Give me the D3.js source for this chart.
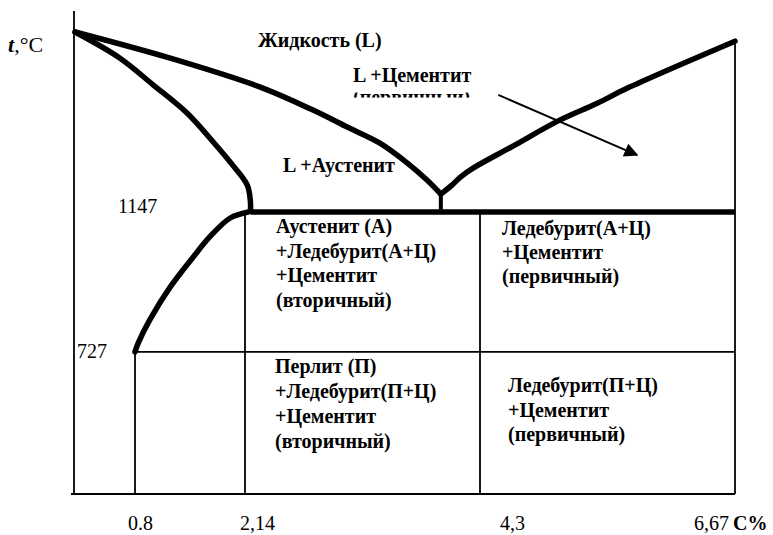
<!DOCTYPE html>
<html><head><meta charset="utf-8">
<script src="https://cdn.jsdelivr.net/npm/d3@7"></script>
<style>body{margin:0;background:#fff} svg{display:block} svg text{font-family:"Liberation Serif","Times New Roman","DejaVu Serif",serif !important;}</style>
</head><body><svg id="c" width="773" height="535"></svg>
<script>
// ---- data (C %, temperature °C) ----
const carbonTicks = [0.8, 2.14, 4.3, 6.67];
const carbonLabels = ["0.8", "2,14", "4,3", "6,67"];
const tempMarks = [1147, 727];
const tempLabels = ["1147", "727"];
const liquidusLeft = [[0,1539],[1.23,1482],[2.28,1419],[2.765,1369],[3.08,1332],[3.38,1297],[3.63,1254],[3.81,1217],[3.94,1186]];
const liquidusRight = [[3.94,1186],[4.04,1205],[4.12,1223],[4.24,1243],[4.61,1291],[5.04,1347],[5.39,1384],[5.69,1419],[6.67,1519]];
const solidus = [[0,1539],[0.6,1482],[1.02,1424],[1.43,1363],[1.75,1300],[1.99,1249],[2.16,1206],[2.19,1169],[2.19,1149]];
const solvus = [[2.17,1147],[1.96,1129],[1.71,1072],[1.51,1012],[1.23,922],[0.98,823],[0.84,754],[0.8,727]];
const eutecticC = [2.19, 6.67];
const eutectoidC = [0.8, 6.67];
const regionA = ["Аустенит (А)", "+Ледебурит(А+Ц)", "+Цементит", "(вторичный)"];
const regionB = ["Ледебурит(А+Ц)", "+Цементит", "(первичный)"];
const regionC = ["Перлит (П)", "+Ледебурит(П+Ц)", "+Цементит", "(вторичный)"];
const regionD = ["Ледебурит(П+Ц)", "+Цементит", "(первичный)"];

// ---- scales (schematic, piecewise) ----
const x = d3.scaleLinear().domain([0, 0.8, 2.14, 4.3, 6.67]).range([75, 135, 245, 480, 735]);
const y = d3.scaleLinear().domain([300, 1147, 1539]).range([494, 212, 32]);

const svg = d3.select("#c");

const defs = svg.append("defs");
defs.append("clipPath").attr("id","cut")
  .append("rect").attr("x",340).attr("y",92.5).attr("width",160).attr("height",5);
defs.append("marker").attr("id","ah").attr("viewBox","0 0 10 10").attr("refX",9).attr("refY",5)
  .attr("markerWidth",8.5).attr("markerHeight",7).attr("markerUnits","strokeWidth").attr("orient","auto")
  .append("path").attr("d","M0,0 L10,5 L0,10 Z").attr("fill","#000");

// axes
svg.append("line").attr("x1",x(0)-1).attr("x2",x(0)-1).attr("y1",11).attr("y2",y(300))
  .attr("stroke","#000").attr("stroke-width",1.8);

const xAxis = d3.axisBottom(x).tickValues(carbonTicks)
  .tickFormat((d,i)=>carbonLabels[i]).tickSize(0).tickPadding(0);
const gx = svg.append("g").attr("transform",`translate(0,${y(300)})`).call(xAxis);
gx.select(".domain").attr("stroke","#000").attr("stroke-width",1.8).attr("d",`M${x(0)-4},0H${x(6.67)}`);
const labelDx = [5, 12, 32, -24];
gx.selectAll(".tick text").attr("font-size",20).attr("fill","#000")
  .attr("dy",null).attr("y",36).attr("dx",(d,i)=>labelDx[i]);
svg.append("text").attr("x",x(6.67)-2).attr("y",530)
  .attr("font-size",20).attr("font-weight","bold").text("C%");

// thin lines
function ln(x1,y1,x2,y2,w){ svg.append("line").attr("x1",x1).attr("y1",y1).attr("x2",x2).attr("y2",y2)
  .attr("stroke","#000").attr("stroke-width",w||1.8); }
ln(x(eutectoidC[0]), y(727), x(eutectoidC[1]), y(727));
ln(x(0.8), y(727), x(0.8), y(300));
ln(x(2.14), y(1147), x(2.14), y(300));
ln(x(4.3), y(1147), x(4.3), y(300));
ln(x(6.67), y(1519), x(6.67), y(300));

// thick curves
const line = d3.line().x(d=>x(d[0])).y(d=>y(d[1])).curve(d3.curveCatmullRom.alpha(0.5));
[liquidusLeft, liquidusRight, solidus, solvus].forEach(p=>{
  svg.append("path").attr("d",line(p)).attr("fill","none").attr("stroke","#000")
    .attr("stroke-width",5.5).attr("stroke-linecap","round").attr("stroke-linejoin","round");
});
svg.append("line").attr("x1",x(eutecticC[0])).attr("x2",x(eutecticC[1])).attr("y1",y(1147)).attr("y2",y(1147))
  .attr("stroke","#000").attr("stroke-width",5.5);
svg.append("line").attr("x1",x(3.94)).attr("x2",x(3.94)).attr("y1",y(1186)).attr("y2",y(1152))
  .attr("stroke","#000").attr("stroke-width",4);

// arrow
svg.append("line").attr("x1",x(4.47)).attr("y1",y(1402)).attr("x2",x(5.76)).attr("y2",y(1271))
  .attr("stroke","#000").attr("stroke-width",2).attr("marker-end","url(#ah)");

// texts
function txt(s,xx,yy,opt){ opt=opt||{};
  return svg.append("text").attr("x",xx).attr("y",yy)
    .attr("font-size",opt.size||20).attr("font-weight",opt.bold===false?"normal":"bold").attr("fill","#000").text(s); }
const tl = svg.append("text").attr("x",8).attr("y",52).attr("font-size",22);
tl.append("tspan").attr("font-weight","bold").attr("font-style","italic").text("t");
tl.append("tspan").text(",°C");

txt("Жидкость (L)", 258, 47);
txt("L +Цементит", 353, 82);
txt("(первичный)", 353, 104).attr("clip-path","url(#cut)");
txt("L +Аустенит", 283, 172);
tempMarks.forEach((t,i)=>txt(tempLabels[i], i===0?118:77, y(t)+(i===0?1:6), {bold:false}));

function block(lines, xx, y0, dy){ lines.forEach((s,i)=>txt(s, xx, y0+i*dy)); }
block(regionA, 276, 233, 24.5);
block(regionB, 502, 235, 24);
block(regionC, 275, 373, 25);
block(regionD, 508, 392, 24.5);
</script></body></html>
